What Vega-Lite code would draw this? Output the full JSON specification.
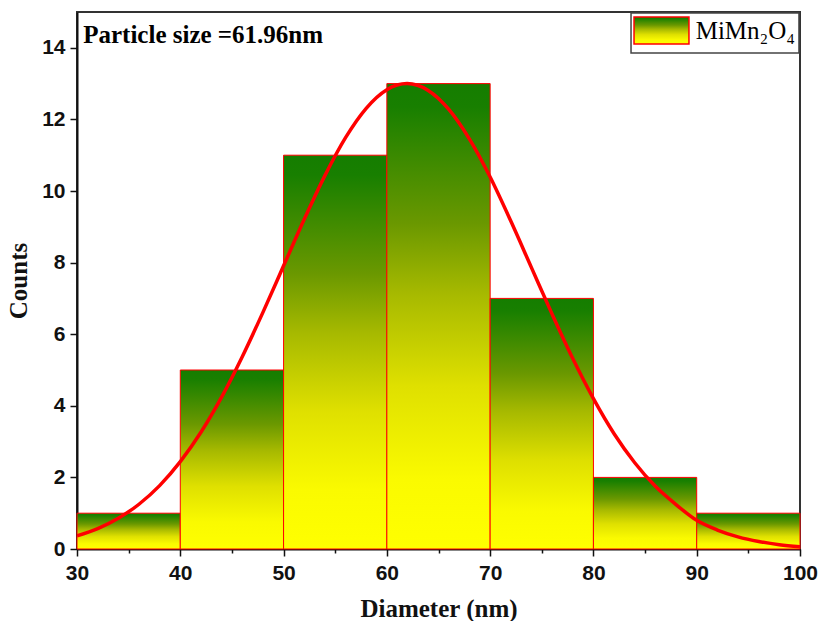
{
  "$schema": "https://vega.github.io/schema/vega-lite/v6.json",
  "width": 723,
  "height": 537,
  "autosize": "none",
  "padding": {"left": 77, "top": 12, "right": 19, "bottom": 72},
  "background": "white",
  "config": {
    "view": {"stroke": "#333333", "strokeWidth": 2},
    "axis": {"grid": false}
  },
  "datasets": {
    "bins": [
      {"x": 30, "x2": 40, "y": 1},
      {"x": 40, "x2": 50, "y": 5},
      {"x": 50, "x2": 60, "y": 11},
      {"x": 60, "x2": 70, "y": 13},
      {"x": 70, "x2": 80, "y": 7},
      {"x": 80, "x2": 90, "y": 2},
      {"x": 90, "x2": 100, "y": 1}
    ],
    "curve": [
      {"x": 30, "y": 0.37}, {"x": 32, "y": 0.57}, {"x": 34, "y": 0.86}, {"x": 36, "y": 1.25},
      {"x": 38, "y": 1.77}, {"x": 40, "y": 2.44}, {"x": 42, "y": 3.26}, {"x": 44, "y": 4.24},
      {"x": 46, "y": 5.37}, {"x": 48, "y": 6.61}, {"x": 50, "y": 7.91}, {"x": 52, "y": 9.21},
      {"x": 54, "y": 10.43}, {"x": 56, "y": 11.49}, {"x": 58, "y": 12.31}, {"x": 60, "y": 12.83},
      {"x": 61.96, "y": 13.0}, {"x": 64, "y": 12.81}, {"x": 66, "y": 12.28}, {"x": 68, "y": 11.45},
      {"x": 70, "y": 10.39}, {"x": 72, "y": 9.16}, {"x": 74, "y": 7.86}, {"x": 76, "y": 6.56},
      {"x": 78, "y": 5.32}, {"x": 80, "y": 4.2}, {"x": 82, "y": 3.22}, {"x": 84, "y": 2.41},
      {"x": 86, "y": 1.75}, {"x": 88, "y": 1.24}, {"x": 90, "y": 0.8}, {"x": 92, "y": 0.53},
      {"x": 94, "y": 0.34}, {"x": 96, "y": 0.21}, {"x": 98, "y": 0.12}, {"x": 100, "y": 0.065}
    ],
    "annot": [{"x": 30.6, "y": 14.13, "label": "Particle size =61.96nm"}],
    "legbox": [{"x": 83.64, "x2": 99.9, "y": 14.97, "y2": 13.855}],
    "legsw": [{"x": 83.93, "x2": 89.25, "y": 14.86, "y2": 14.106}],
    "legtx": [{"x": 89.9, "y": 14.47, "label": "MiMn₂O₄"}]
  },
  "layer": [
    {
      "data": {"name": "bins"},
      "mark": {
        "type": "bar",
        "stroke": "#ff0000",
        "strokeWidth": 1,
        "fill": {
          "gradient": "linear", "x1": 0, "y1": 0, "x2": 0, "y2": 1,
          "stops": [
            {"offset": 0, "color": "#157d00"},
            {"offset": 0.05, "color": "#187f00"},
            {"offset": 0.3, "color": "#6a9800"},
            {"offset": 0.45, "color": "#a6b900"},
            {"offset": 0.65, "color": "#dfe000"},
            {"offset": 0.85, "color": "#fafa00"},
            {"offset": 1, "color": "#ffff00"}
          ]
        }
      },
      "encoding": {
        "x": {
          "field": "x", "type": "quantitative",
          "scale": {"domain": [30, 100], "nice": false, "zero": false},
          "axis": {
            "title": "Diameter (nm)",
            "values": [30, 35, 40, 45, 50, 55, 60, 65, 70, 75, 80, 85, 90, 95, 100],
            "labelExpr": "datum.value % 10 === 0 ? datum.label : ''",
            "tickSize": {"condition": {"test": "datum.value % 10 === 0", "value": 7}, "value": 4},
            "tickWidth": 1.5,
            "tickColor": "#111111",
            "domainColor": "#111111",
            "domainWidth": 2,
            "labelFont": "Liberation Sans",
            "labelFontWeight": "bold",
            "labelFontSize": 21,
            "labelColor": "#111111",
            "labelPadding": 6,
            "labelFlush": false,
            "labelOverlap": false,
            "titleFont": "Liberation Serif",
            "titleFontWeight": "bold",
            "titleFontSize": 25,
            "titleColor": "#111111",
            "titlePadding": 13
          }
        },
        "x2": {"field": "x2"},
        "y": {
          "field": "y", "type": "quantitative",
          "scale": {"domain": [0, 15], "nice": false},
          "axis": {
            "title": "Counts",
            "values": [0, 1, 2, 3, 4, 5, 6, 7, 8, 9, 10, 11, 12, 13, 14],
            "labelExpr": "datum.value % 2 === 0 ? datum.label : ''",
            "tickSize": {"condition": {"test": "datum.value % 2 === 0", "value": 7}, "value": 4},
            "tickWidth": 1.5,
            "tickColor": "#111111",
            "domainColor": "#111111",
            "domainWidth": 2,
            "labelFont": "Liberation Sans",
            "labelFontWeight": "bold",
            "labelFontSize": 21,
            "labelColor": "#111111",
            "labelPadding": 5,
            "labelFlush": false,
            "labelOverlap": false,
            "titleFont": "Liberation Serif",
            "titleFontWeight": "bold",
            "titleFontSize": 25,
            "titleColor": "#111111",
            "titlePadding": 10
          }
        },
        "y2": {"datum": 0}
      }
    },
    {
      "data": {"name": "curve"},
      "mark": {"type": "line", "color": "#ff0000", "strokeWidth": 3.5, "interpolate": "monotone", "clip": true},
      "encoding": {
        "x": {"field": "x", "type": "quantitative"},
        "y": {"field": "y", "type": "quantitative"}
      }
    },
    {
      "data": {"name": "annot"},
      "mark": {"type": "text", "align": "left", "baseline": "alphabetic", "font": "Liberation Serif", "fontWeight": "bold", "fontSize": 25, "color": "#000000"},
      "encoding": {
        "x": {"field": "x", "type": "quantitative"},
        "y": {"field": "y", "type": "quantitative"},
        "text": {"field": "label"}
      }
    },
    {
      "data": {"name": "legbox"},
      "mark": {"type": "rect", "fill": "white", "stroke": "#444444", "strokeWidth": 1.5},
      "encoding": {
        "x": {"field": "x", "type": "quantitative"},
        "x2": {"field": "x2"},
        "y": {"field": "y", "type": "quantitative"},
        "y2": {"field": "y2"}
      }
    },
    {
      "data": {"name": "legsw"},
      "mark": {
        "type": "rect", "stroke": "#ff0000", "strokeWidth": 1.5,
        "fill": {
          "gradient": "linear", "x1": 0, "y1": 0, "x2": 0, "y2": 1,
          "stops": [
            {"offset": 0, "color": "#157d00"},
            {"offset": 0.05, "color": "#187f00"},
            {"offset": 0.3, "color": "#6a9800"},
            {"offset": 0.45, "color": "#a6b900"},
            {"offset": 0.65, "color": "#dfe000"},
            {"offset": 0.85, "color": "#fafa00"},
            {"offset": 1, "color": "#ffff00"}
          ]
        }
      },
      "encoding": {
        "x": {"field": "x", "type": "quantitative"},
        "x2": {"field": "x2"},
        "y": {"field": "y", "type": "quantitative"},
        "y2": {"field": "y2"}
      }
    },
    {
      "data": {"name": "legtx"},
      "mark": {"type": "text", "align": "left", "baseline": "middle", "font": "Liberation Serif", "fontSize": 25, "color": "#000000"},
      "encoding": {
        "x": {"field": "x", "type": "quantitative"},
        "y": {"field": "y", "type": "quantitative"},
        "text": {"field": "label"}
      }
    }
  ]
}
